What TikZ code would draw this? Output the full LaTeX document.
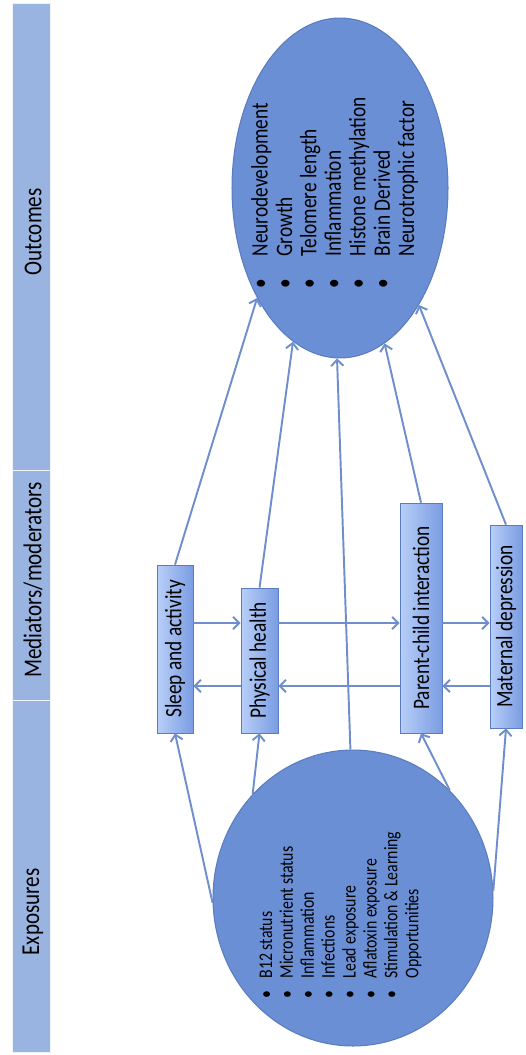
\documentclass[tikz,border=0pt]{standalone}
\usepackage{fontspec}
\setmainfont{Carlito}
\usetikzlibrary{shapes.geometric,arrows.meta}

\definecolor{bandblue}{HTML}{9AB4E1}
\definecolor{ovalblue}{HTML}{6A8FD5}
\definecolor{ovalline}{HTML}{5A7CC0}
\definecolor{boxlight}{HTML}{B8CFF8}
\definecolor{boxdark}{HTML}{7A9CE2}
\definecolor{arrowblue}{HTML}{6E8ECD}

\newcommand{\upsc}[1]{\rotatebox{90}{\scalebox{1}[1.22]{#1}}}

\begin{document}
\begin{tikzpicture}[x=0.02cm, y=-0.02cm,
		band/.style={fill=bandblue, draw=white!85!bandblue, line width=0.4pt},
		heading/.style={inner sep=0pt, font=\fontsize{12}{14}\selectfont},
		oval/.style={ellipse, fill=ovalblue, draw=ovalline, line width=0.6pt, inner sep=0pt},
		medbox/.style={draw=ovalline, left color=boxlight, right color=boxdark, inner sep=0pt, font=\fontsize{11}{13}\selectfont},
		arr/.style={draw=arrowblue, line width=1.1pt, -{Straight Barb[length=3.5pt,width=7pt]}}
	]
		\useasboundingbox (0,0) rectangle (525,1055);

		\draw[band] (12,3) rectangle (50,470);
		\draw[band] (12,470) rectangle (50,700);
		\draw[band] (12,700) rectangle (50,1052);
		\node[heading] (hout) at (33,232) {\upsc{Outcomes}};
		\node[heading] (hmed) at (33,580) {\upsc{Mediators/moderators}};
		\node[heading] (hexp) at (33,912) {\upsc{Exposures}};

		\node[oval, minimum width=5.6cm, minimum height=5.92cm] (expo) at (353,898) {};
		\node[oval, minimum width=4.32cm, minimum height=6.8cm] (outc) at (340,188) {};

		\node[inner sep=0pt, font=\fontsize{9}{9.75}\selectfont] (expolist) at (341,915)
		{\upsc{\begin{tabular}{@{}l@{\hspace{7pt}}l@{}}
			\textbullet & B12 status\\
			\textbullet & Micronutrient status\\
			\textbullet & Inflammation\\
			\textbullet & Infections\\
			\textbullet & Lead exposure\\
			\textbullet & Aflatoxin exposure\\
			\textbullet & Stimulation \& Learning\\
			 & Opportunities
		\end{tabular}}};
		\node[inner sep=0pt, font=\fontsize{11}{11.4}\selectfont] (outclist) at (336,193)
		{\upsc{\begin{tabular}{@{}l@{\hspace{13pt}}l@{}}
			\textbullet & Neurodevelopment\\
			\textbullet & Growth\\
			\textbullet & Telomere length\\
			\textbullet & Inflammation\\
			\textbullet & Histone methylation\\
			\textbullet & Brain Derived\\
			 & Neurotrophic factor
		\end{tabular}}};

		\node[medbox, minimum width=0.72cm, minimum height=3.36cm] (sleep) at (175,649) {\upsc{Sleep and activity}};
		\node[medbox, minimum width=0.74cm, minimum height=2.9cm] (phys) at (259.5,660.5) {\upsc{Physical health}};
		\node[medbox, minimum width=0.84cm, minimum height=4.6cm] (parent) at (421,618) {\upsc{Parent-child interaction}};
		\node[medbox, minimum width=0.64cm, minimum height=4.06cm] (matern) at (506,626.5) {\upsc{Maternal depression}};

		\coordinate (fwd) at (0,623);
		\coordinate (bwd) at (0,686);
		\draw[arr] (sleep.east |- fwd) -- (phys.west |- fwd);
		\draw[arr] (phys.east |- fwd) -- (parent.west |- fwd);
		\draw[arr] (parent.east |- fwd) -- (matern.west |- fwd);
		\draw[arr] (matern.west |- bwd) -- (parent.east |- bwd);
		\draw[arr] (parent.west |- bwd) -- (phys.east |- bwd);
		\draw[arr] (phys.west |- bwd) -- (sleep.east |- bwd);

		\draw[arr] (expo.182) -- (sleep.south);
		\draw[arr] (expo.134) -- (phys.south);
		\draw[arr] (expo.48) -- (parent.south);
		\draw[arr] (expo.3) -- (matern.south);
		\draw[arr] (expo.91) -- (outc.269);

		\draw[arr] (sleep.north) -- (outc.233);
		\draw[arr] (phys.north) -- (outc.253);
		\draw[arr] (parent.north) -- (outc.286);
		\draw[arr] (matern.north) -- (outc.304);
	\end{tikzpicture}
\end{document}
